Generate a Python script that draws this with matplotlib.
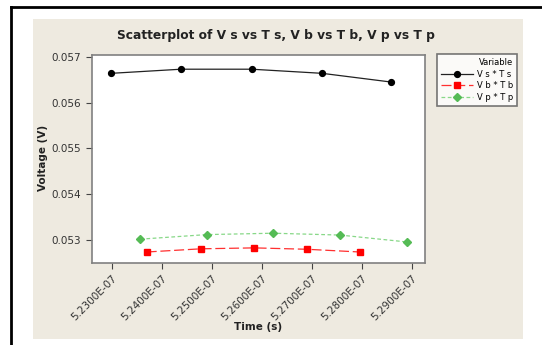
import numpy as np
import matplotlib.pyplot as plt
from matplotlib.patches import Rectangle
from matplotlib.lines import Line2D
from matplotlib.ticker import FuncFormatter

# valeurs (temps en s, tension en V)
t_s = [5.2299e-07, 5.2439e-07, 5.2580e-07, 5.2721e-07, 5.2859e-07]
v_s = [0.05664, 0.05673, 0.05673, 0.05664, 0.05645]
t_b = [5.2370e-07, 5.2479e-07, 5.2585e-07, 5.2690e-07, 5.2797e-07]
v_b = [0.05274, 0.05281, 0.05283, 0.05280, 0.05274]
t_p = [5.2357e-07, 5.2490e-07, 5.2623e-07, 5.2757e-07, 5.2890e-07]
v_p = [0.05302, 0.05312, 0.05315, 0.05311, 0.05296]

x_ticks = [5.23e-07, 5.24e-07, 5.25e-07, 5.26e-07, 5.27e-07, 5.28e-07, 5.29e-07]
y_ticks = [0.053, 0.054, 0.055, 0.056, 0.057]

W, H = 542, 345
fig = plt.figure(figsize=(W / 100, H / 100), dpi=100)
fig.patch.set_facecolor('white')

# fond beige + cadre noir
fig.patches.append(Rectangle((33 / W, 1 - 339 / H), 490 / W, 320 / H,
                             transform=fig.transFigure, facecolor='#eeeae0',
                             edgecolor='none', zorder=-1))
fig.lines.append(Line2D([11 / W, 11 / W], [0, 1 - 7 / H], transform=fig.transFigure,
                        color='black', lw=2, zorder=-1))
fig.lines.append(Line2D([11 / W, 1], [1 - 7 / H, 1 - 7 / H], transform=fig.transFigure,
                        color='black', lw=2, zorder=-1))

ax = fig.add_axes([91.7 / W, 1 - 263 / H, 333.3 / W, 208 / H])
ax.set_zorder(2)
ax.set_facecolor('white')

ax.plot(t_s, v_s, color='#222222', lw=0.9, marker='o', ms=4.2,
        mfc='black', mec='black', label='V s * T s')
ax.plot(t_b, v_b, color='#ff3030', lw=0.9, ls=(0, (8, 3)), marker='s', ms=4.2,
        mfc='#ff0000', mec='#ff0000', label='V b * T b')
ax.plot(t_p, v_p, color='#88d888', lw=0.9, ls=(0, (3, 2)), marker='D', ms=3.8,
        mfc='#55bb55', mec='#55bb55', label='V p * T p')

ax.set_xlim(5.2260e-07, 5.2927e-07)
ax.set_ylim(0.0525, 0.05704)
ax.set_xticks(x_ticks)
ax.set_yticks(y_ticks)
ax.xaxis.set_major_formatter(FuncFormatter(lambda v, p: '%.4fE-07' % (v * 1e7)))
ax.yaxis.set_major_formatter(FuncFormatter(lambda v, p: '%.3f' % v))
ax.tick_params(direction='out', length=4, width=0.8, color='#444444',
               labelsize=7.5, labelcolor='#333333')
for lab in ax.get_xticklabels():
    lab.set_rotation(45)
    lab.set_ha('right')
    lab.set_rotation_mode('anchor')
for sp in ax.spines.values():
    sp.set_color('#808080')
    sp.set_linewidth(1.2)

fig.text(275.5 / W, 1 - 36 / H, 'Scatterplot of V s vs T s, V b vs T b, V p vs T p',
         ha='center', va='center', fontsize=8.8, fontweight='bold', color='#222222')
fig.text(258 / W, 1 - 327 / H, 'Time (s)', ha='center', va='center',
         fontsize=7.5, fontweight='bold', color='#222222')
fig.text(43 / W, 1 - 158 / H, 'Voltage (V)', ha='center', va='center', rotation=90,
         fontsize=7.5, fontweight='bold', color='#222222')

leg = fig.legend(loc='upper left', bbox_to_anchor=(436.7 / W, 1 - 54 / H),
                 title='Variable', fontsize=6, title_fontsize=6,
                 frameon=True, fancybox=False, edgecolor='#555555',
                 handlelength=3.8, borderpad=0.5, labelspacing=0.3,
                 handletextpad=0.5, borderaxespad=0)
leg.get_frame().set_linewidth(1.2)
leg._legend_box.align = 'right'

fig.savefig('out.png', dpi=100)
